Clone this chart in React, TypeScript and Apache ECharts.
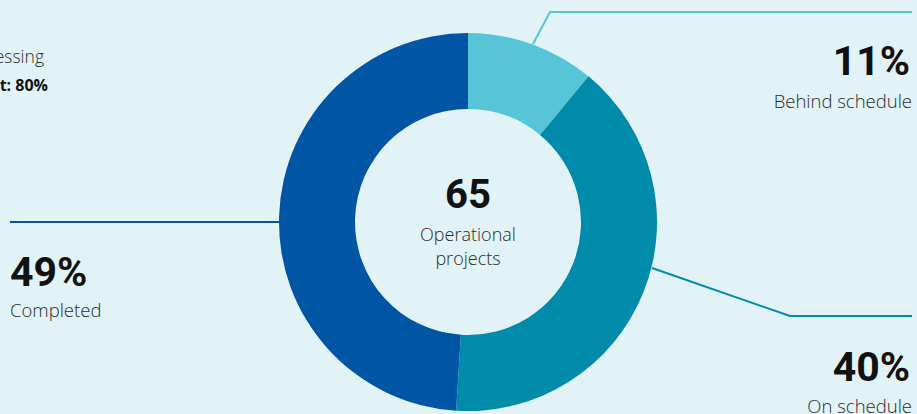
import React, { useEffect, useRef } from "react";
import * as echarts from "echarts";

const categories = ["Behind schedule", "On schedule", "Completed"];
const shares = [11, 40, 49];
const colors = ["#56C5D8", "#008BAA", "#0055A5"];
const totalProjects = 65;
const centerLines = ["Operational", "projects"];
const cornerLines = ["Under processing", "Target: 80%"];

export default function App() {
  const ref = useRef<HTMLDivElement>(null);
  useEffect(() => {
    document.body.style.margin = "0";
    const chart = echarts.init(ref.current!, null, { renderer: "svg" });
    const bodyFont = "'Open Sans', 'Noto Sans', sans-serif";
    const boldFont = "Roboto, 'Noto Sans', sans-serif";
    const textColor = "#2b2b2b";

    const annot: any[] = [
      { px: 910, py: 61, ly: 100, align: "right", pts: [[533, 44], [550, 12], [912, 12]] },
      { px: 910, py: 367, ly: 405, align: "right", pts: [[652, 268], [790, 316], [912, 316]] },
      { px: 10, py: 272, ly: 309, align: "left", pts: [[10, 222], [280, 222]] },
    ];

    const graphics: any[] = [];
    categories.forEach((c, i) => {
      const a = annot[i];
      graphics.push({
        type: "polyline",
        shape: { points: a.pts },
        style: { stroke: colors[i], lineWidth: 2, fill: null },
        z: 0,
      });
      graphics.push({
        type: "text",
        x: a.px,
        y: a.py,
        style: {
          text: shares[i] + "%",
          font: "bold 41px " + boldFont,
          fill: "#111",
          align: a.align,
          verticalAlign: "middle",
        },
      });
      graphics.push({
        type: "text",
        x: a.px + (a.align === "right" ? 2 : 0),
        y: a.ly,
        style: {
          text: c,
          font: "300 18.5px " + bodyFont,
          fill: textColor,
          align: a.align,
          verticalAlign: "middle",
        },
      });
    });

    graphics.push({
      type: "text",
      x: 468,
      y: 194,
      style: {
        text: String(totalProjects),
        font: "bold 40px " + boldFont,
        fill: "#111",
        align: "center",
        verticalAlign: "middle",
      },
    });
    centerLines.forEach((t, i) => {
      graphics.push({
        type: "text",
        x: 468,
        y: 234 + i * 24,
        style: {
          text: t,
          font: "300 18px " + bodyFont,
          fill: textColor,
          align: "center",
          verticalAlign: "middle",
        },
      });
    });
    graphics.push({
      type: "text",
      x: 44,
      y: 56,
      style: {
        text: cornerLines[0],
        font: "300 17.5px " + bodyFont,
        fill: textColor,
        align: "right",
        verticalAlign: "middle",
      },
    });
    graphics.push({
      type: "text",
      x: 48,
      y: 85,
      style: {
        text: cornerLines[1],
        font: "bold 16px " + bodyFont,
        fill: "#111",
        align: "right",
        verticalAlign: "middle",
      },
    });

    chart.setOption({
      animation: false,
      backgroundColor: "#E1F3F6",
      graphic: graphics,
      series: [
        {
          type: "pie",
          center: [468, 222],
          radius: [113, 189],
          startAngle: 90,
          clockwise: true,
          label: { show: false },
          labelLine: { show: false },
          emphasis: { disabled: true },
          itemStyle: { borderWidth: 0 },
          z: 2,
          data: categories.map((c, i) => ({
            name: c,
            value: shares[i],
            itemStyle: { color: colors[i] },
          })),
        },
      ],
    });
    return () => chart.dispose();
  }, []);
  return <div ref={ref} style={{ width: 917, height: 414 }} />;
}
